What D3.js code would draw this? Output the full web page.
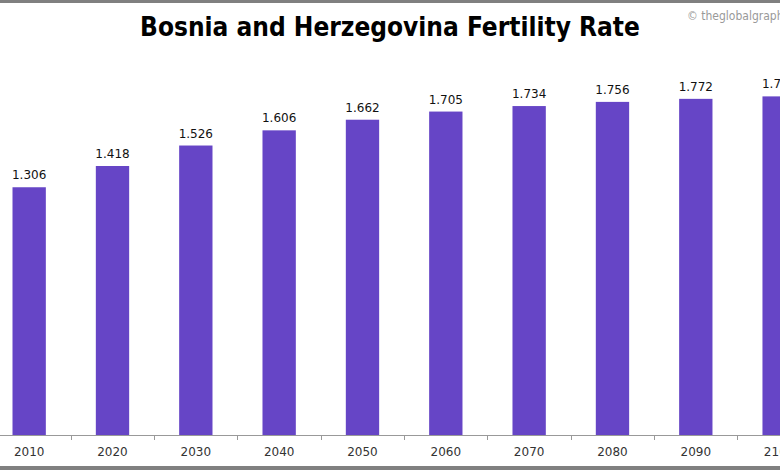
<!DOCTYPE html>
<html><head><meta charset="utf-8">
<script src="https://cdn.jsdelivr.net/npm/d3@7"></script>
<style>body{margin:0;background:#fff}svg{display:block}</style>
</head><body>
<svg id="c" width="780" height="470"></svg>
<script>
const years = ["2010","2020","2030","2040","2050","2060","2070","2080","2090","2100"];
const rates = [1.306,1.418,1.526,1.606,1.662,1.705,1.734,1.756,1.772,1.785];
const titleText = "Bosnia and Herzegovina Fertility Rate";
const credit = "© theglobalgraph.com";

const svg = d3.select("#c");
const W = 780, H = 470;
svg.append("rect").attr("width",W).attr("height",H).attr("fill","#fff");
svg.append("rect").attr("x",0).attr("y",0).attr("width",W).attr("height",3).attr("fill","#808080");
svg.append("rect").attr("x",0).attr("y",466).attr("width",W).attr("height",4).attr("fill","#808080");

const x = d3.scaleBand().domain(years).range([-12.5, -12.5 + 83.33*years.length]).paddingInner(0.6).paddingOuter(0.3);
const y = d3.scaleLinear().domain([0,2]).range([435, 55.6]);

svg.append("text").attr("x",390).attr("y",36).attr("text-anchor","middle")
  .attr("font-family","'DejaVu Sans Condensed', 'DejaVu Sans', sans-serif").attr("font-weight","bold")
  .attr("font-size",26).attr("fill","#000").text(titleText);
svg.append("text").attr("x",687).attr("y",20)
  .attr("font-family","'DejaVu Sans Condensed', sans-serif").attr("font-size",12).attr("fill","#999").text(credit);

svg.selectAll("rect.bar").data(years).enter().append("rect").attr("class","bar")
  .attr("x",d=>x(d)).attr("width",x.bandwidth())
  .attr("y",(d,i)=>y(rates[i])).attr("height",(d,i)=>y(0)-y(rates[i]))
  .attr("fill","#6645C6");

svg.selectAll("text.val").data(years).enter().append("text").attr("class","val")
  .attr("x",d=>x(d)+x.bandwidth()/2).attr("y",(d,i)=>y(rates[i])-8)
  .attr("text-anchor","middle").attr("font-family","'DejaVu Sans', sans-serif").attr("font-size",12)
  .attr("fill","#111").text((d,i)=>rates[i].toFixed(3));

const axis = svg.append("g").attr("transform","translate(0,435)");
axis.append("line").attr("x1",0).attr("x2",W).attr("y1",0.5).attr("y2",0.5).attr("stroke","#999");
const step = x.step();
axis.selectAll("line.tk").data(years.slice(1)).enter().append("line").attr("class","tk")
  .attr("x1",d=>Math.round(x(d)-(step-x.bandwidth())/2)+0.5).attr("x2",d=>Math.round(x(d)-(step-x.bandwidth())/2)+0.5)
  .attr("y1",0).attr("y2",5).attr("stroke","#999");
axis.selectAll("text.yr").data(years).enter().append("text").attr("class","yr")
  .attr("x",d=>x(d)+x.bandwidth()/2).attr("y",21).attr("text-anchor","middle")
  .attr("font-family","'DejaVu Sans', sans-serif").attr("font-size",12).attr("fill","#333").text(d=>d);
</script>
</body></html>
